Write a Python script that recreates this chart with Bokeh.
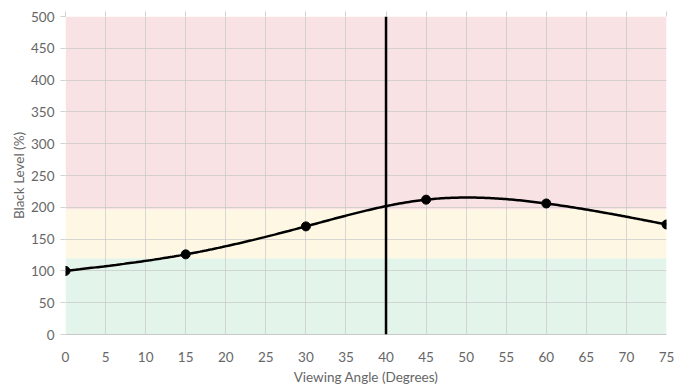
import numpy as np
from bokeh.plotting import figure
from bokeh.models import Range1d, Span, FixedTicker, LinearAxis
from bokeh.embed import file_html
from bokeh.resources import INLINE

angles = [0, 15, 30, 45, 60, 75]
black_level = [100, 126, 170, 212, 206, 173]
marker_angle = 40
band_bottoms = [0, 120, 197]
band_tops = [120, 197, 500]
band_colors = ["#e3f4ea", "#fef7e3", "#f9e2e4"]
x_ticks = list(range(0, 80, 5))
y_ticks = list(range(0, 550, 50))


def natural_spline(x, y, n=300):
    x = np.asarray(x, float)
    y = np.asarray(y, float)
    k = len(x)
    h = np.diff(x)
    A = np.zeros((k, k))
    b = np.zeros(k)
    A[0, 0] = A[-1, -1] = 1
    for i in range(1, k - 1):
        A[i, i - 1] = h[i - 1]
        A[i, i] = 2 * (h[i - 1] + h[i])
        A[i, i + 1] = h[i]
        b[i] = 6 * ((y[i + 1] - y[i]) / h[i] - (y[i] - y[i - 1]) / h[i - 1])
    M = np.linalg.solve(A, b)
    xs = np.linspace(x[0], x[-1], n)
    ys = np.empty_like(xs)
    for j, t in enumerate(xs):
        i = min(np.searchsorted(x, t, side="right") - 1, k - 2)
        a = x[i + 1] - t
        c = t - x[i]
        ys[j] = (M[i] * a**3 + M[i + 1] * c**3) / (6 * h[i]) + \
            (y[i] / h[i] - M[i] * h[i] / 6) * a + (y[i + 1] / h[i] - M[i + 1] * h[i] / 6) * c
    return xs, ys


p = figure(frame_width=601, frame_height=318, output_backend="svg", toolbar_location=None,
           x_range=Range1d(0, 75), y_range=Range1d(0, 500),
           min_border_left=65, min_border_right=20, min_border_top=16, min_border_bottom=10)
p.outline_line_color = None
p.background_fill_color = "white"

p.quad(left=0, right=75, bottom=band_bottoms, top=band_tops, fill_color=band_colors,
       line_color=None, level="image")

p.xgrid.ticker = FixedTicker(ticks=x_ticks)
p.ygrid.ticker = FixedTicker(ticks=y_ticks)
p.xgrid.grid_line_color = "#c8c8c8"
p.ygrid.grid_line_color = "#c8c8c8"
p.xgrid.grid_line_alpha = 0.7
p.ygrid.grid_line_alpha = 0.7
p.xgrid.level = "underlay"
p.ygrid.level = "underlay"

xs, ys = natural_spline(angles, black_level)
p.line(xs, ys, line_color="black", line_width=2.5)
p.scatter(angles, black_level, size=9, color="black")

p.add_layout(Span(location=marker_angle, dimension="height", line_color="black", line_width=2.5))

xa = p.below[0]
ya = p.left[0]
for ax in (xa, ya):
    ax.major_label_text_font = "Lato"
    ax.major_label_text_font_size = "13.5px"
    ax.major_label_text_color = "#666666"
    ax.axis_label_text_font = "Lato"
    ax.axis_label_text_font_size = "13.5px"
    ax.axis_label_text_font_style = "normal"
    ax.axis_label_text_color = "#666666"
    ax.minor_tick_line_color = None

xa.ticker = FixedTicker(ticks=x_ticks)
ya.ticker = FixedTicker(ticks=y_ticks)
xa.axis_label = "Viewing Angle (Degrees)"
ya.axis_label = "Black Level (%)"
xa.axis_line_color = "#c8c8c8"
xa.major_tick_line_color = None
xa.major_label_standoff = 11
xa.axis_label_standoff = 4
ya.axis_line_color = None
ya.major_tick_line_color = "#d0d0d0"
ya.major_tick_out = 5
ya.major_tick_in = 0
ya.major_label_standoff = 6
ya.axis_label_standoff = 1

top_axis = LinearAxis(ticker=FixedTicker(ticks=x_ticks), axis_line_color=None,
                      major_tick_line_color="#d0d0d0", major_tick_out=5, major_tick_in=0,
                      minor_tick_line_color=None, major_label_text_font_size="0px",
                      major_label_text_alpha=0, major_label_standoff=0)
p.add_layout(top_axis, "above")

open("out.html", "w").write(file_html(p, INLINE))
